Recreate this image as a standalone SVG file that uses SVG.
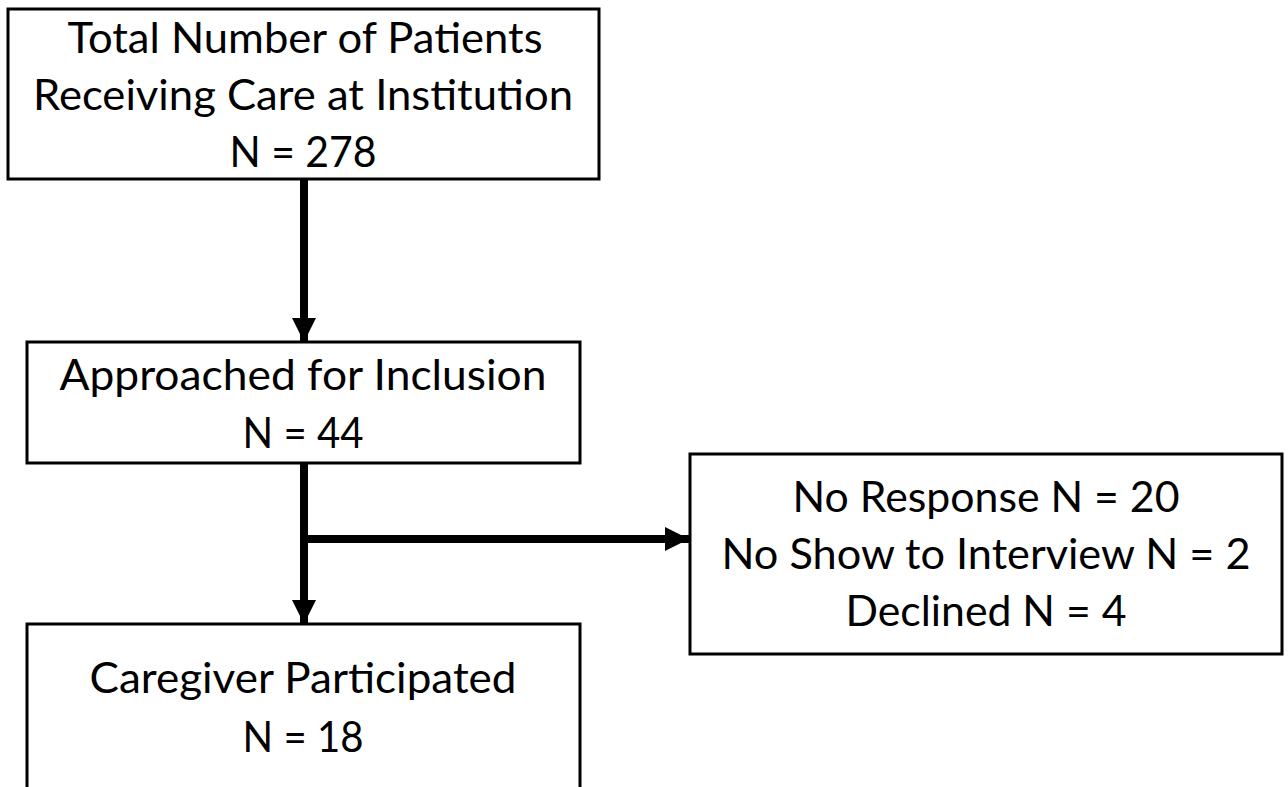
<svg xmlns="http://www.w3.org/2000/svg" width="1288" height="787" viewBox="0 0 1288 787">
<style>
.box{fill:#fff;stroke:#000;stroke-width:3}
.t{font-family:Lato,"Liberation Sans",sans-serif;font-size:42px;fill:#000;text-anchor:middle}
.c{stroke:#000;stroke-width:8;fill:none}
</style>
<defs>
<marker id="ah" markerUnits="userSpaceOnUse" markerWidth="26" markerHeight="24" refX="24" refY="12" orient="auto">
<path d="M0,0 L24,12 L0,24 Z" fill="#000"/>
</marker>
</defs>
<rect width="1288" height="787" fill="#fff"/>
<g id="connectors">
<path class="c" d="M304,179 V342" marker-end="url(#ah)"/>
<path class="c" d="M304,463 V624" marker-end="url(#ah)"/>
<path class="c" d="M304,539 H689" marker-end="url(#ah)"/>
</g>
<g id="n1">
<rect class="box" x="8" y="9" width="591" height="170"/>
<text class="t" x="305" y="53" textLength="475" lengthAdjust="spacingAndGlyphs">Total Number of Patients</text>
<text class="t" x="303" y="110" textLength="540" lengthAdjust="spacingAndGlyphs">Receiving Care at Institution</text>
<text class="t" x="303" y="167" textLength="147" lengthAdjust="spacingAndGlyphs">N = 278</text>
</g>
<g id="n2">
<rect class="box" x="27" y="342" width="553" height="121"/>
<text class="t" x="303" y="390" textLength="487" lengthAdjust="spacingAndGlyphs">Approached for Inclusion</text>
<text class="t" x="303" y="448" textLength="121" lengthAdjust="spacingAndGlyphs">N = 44</text>
</g>
<g id="n3">
<rect class="box" x="27" y="624" width="553" height="200"/>
<text class="t" x="303" y="693" textLength="427" lengthAdjust="spacingAndGlyphs">Caregiver Participated</text>
<text class="t" x="303" y="752" textLength="121" lengthAdjust="spacingAndGlyphs">N = 18</text>
</g>
<g id="n4">
<rect class="box" x="690" y="454" width="592" height="200"/>
<text class="t" x="986" y="512" textLength="387" lengthAdjust="spacingAndGlyphs">No Response N = 20</text>
<text class="t" x="986" y="569" textLength="529" lengthAdjust="spacingAndGlyphs">No Show to Interview N = 2</text>
<text class="t" x="986" y="626" textLength="281" lengthAdjust="spacingAndGlyphs">Declined N = 4</text>
</g>
</svg>
